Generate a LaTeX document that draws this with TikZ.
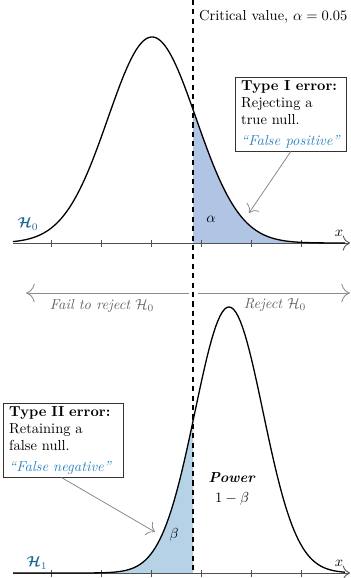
\documentclass[tikz,border=0pt]{standalone}
\usepackage{amsmath,amssymb,bm}
\usetikzlibrary{arrows.meta,calc}
\definecolor{alphafill}{RGB}{176,196,228}
\definecolor{betafill}{RGB}{182,210,230}
\definecolor{hcol}{RGB}{28,105,145}
\definecolor{fpblue}{RGB}{46,134,193}
\definecolor{axiscol}{RGB}{80,80,80}
\definecolor{regcol}{RGB}{140,140,140}
\definecolor{regtext}{RGB}{100,100,100}
\begin{document}
\begin{tikzpicture}[x=0.69pt,y=-0.69pt,
  curve/.style={line width=0.9pt,black},
  axisline/.style={line width=0.6pt,axiscol,-{To[length=5pt]}},
  tickmark/.style={line width=0.5pt,axiscol},
  errbox/.style={draw=black!80,line width=0.5pt,fill=white,align=left,anchor=north west,inner xsep=4pt,inner ysep=2pt},
  callout/.style={gray,line width=0.5pt,-{To[length=5pt]}},
  region/.style={regcol,line width=0.6pt,-{To[length=6pt]}},
  regtxt/.style={text=regtext,font=\itshape},
  hlab/.style={text=hcol},
  crit/.style={black,line width=0.8pt,dash pattern=on 3.5pt off 3pt}
]
\useasboundingbox (0,0) rectangle (350,578);
% ---------- top panel ----------
\fill[alphafill] (193,243) -- plot[domain=193:345,samples=80] (\x,{243-206*exp(-0.5*((\x-152)/44)*((\x-152)/44))}) -- (345,243) -- cycle;
\draw[axisline] (13,243) -- (350,243);
\foreach \t in {51,101,151,201,251,301} \draw[tickmark] (\t,239.5) -- (\t,246.5);
\draw[curve] plot[domain=13:345,samples=150] (\x,{243-206*exp(-0.5*((\x-152)/44)*((\x-152)/44))});
\node[hlab] (h0) at (28,224) {$\boldsymbol{\mathcal{H}}_0$};
\node (x0) at (339,233) {$x$};
\node (alab) at (211,219) {$\alpha$};
\node[errbox] (t1) at (235,77) {\textbf{Type I error:}\\ Rejecting a\\ true null.\\[2pt] \textcolor{fpblue}{\textit{``False positive''}}};
\coordinate (a1end) at (249,213);
\draw[callout] (t1.south) -- (a1end);
% ---------- middle ----------
\coordinate (mid) at (193,293);
\draw[region] ($(mid)+(-4,0)$) -- (26,293);
\draw[region] ($(mid)+(5,0)$) -- (350,293);
\node[regtxt] (fail) at (102,306) {Fail to reject $\mathcal{H}_0$};
\node[regtxt] (rej) at (275,305) {Reject $\mathcal{H}_0$};
% ---------- bottom panel ----------
\fill[betafill] (13,573) -- plot[domain=13:193,samples=80] (\x,{573-266*exp(-0.5*((\x-229)/34)*((\x-229)/34))}) -- (193,573) -- cycle;
\draw[axisline] (13,573) -- (350,573);
\foreach \t in {51,101,151,201,251,301} \draw[tickmark] (\t,569.5) -- (\t,576.5);
\draw[curve] plot[domain=13:345,samples=150] (\x,{573-266*exp(-0.5*((\x-229)/34)*((\x-229)/34))});
\node[hlab] (h1) at (37,563) {$\boldsymbol{\mathcal{H}}_1$};
\node (x1) at (339,563) {$x$};
\node (blab) at (174,535) {$\beta$};
\node (pow) at (232,478) {\textbf{\textit{Power}}};
\node (omb) at (232,499) {$1-\beta$};
\node[errbox,text width=75pt] (t2) at (3,403) {\textbf{Type II error:}\\ Retaining a\\ false null.\\[2pt] \textcolor{fpblue}{\textit{``False negative''}}};
\coordinate (b1end) at (155,532);
\draw[callout] ($(t2.south)+(-2,0)$) -- (b1end);
% ---------- critical value ----------
\coordinate (ctop) at (193,0);
\coordinate (cbot) at (193,573);
\draw[crit] (ctop) -- (cbot);
\node[anchor=west,inner sep=2pt] (critlab) at (196,17) {Critical value, $\alpha=0.05$};
\end{tikzpicture}
\end{document}
